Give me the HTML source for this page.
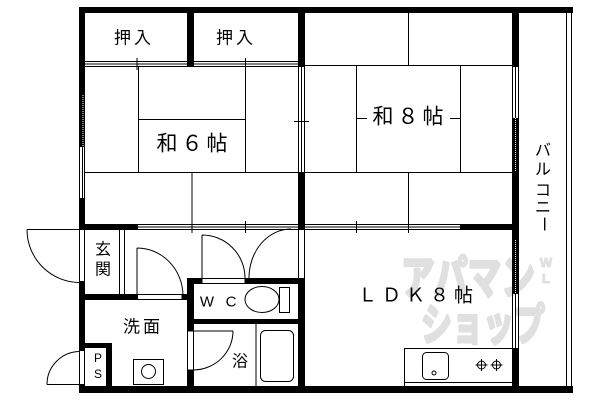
<!DOCTYPE html>
<html><head><meta charset="utf-8"><style>
html,body{margin:0;padding:0;background:#fff}
svg{display:block}
text{font-family:"Liberation Sans","Noto Sans CJK JP",sans-serif}
</style></head><body>
<svg width="600" height="400" viewBox="0 0 600 400" xmlns="http://www.w3.org/2000/svg">
<rect width="600" height="400" fill="#fff"/>
<g fill="#e0e0e0" stroke="#e0e0e0" stroke-width="3" stroke-linejoin="round" font-weight="bold">
<text x="401" y="294" font-size="46" textLength="134" lengthAdjust="spacingAndGlyphs">アパマン</text>
<text x="421" y="340" font-size="44" textLength="124" lengthAdjust="spacingAndGlyphs">ショップ</text>
<text x="546" y="267" font-size="13" stroke-width="1" text-anchor="middle">W</text>
<text x="546" y="283" font-size="13" stroke-width="1" text-anchor="middle">L</text>
</g>
<path fill="#000" d="M79 7h494v6h-494z M79 386h494v7h-494z M79 7h6v140h-6z M79 198h6v31h-6z M79 281h6v70h-6z M79 384h6v9h-6z M187 7h7v60h-7z M298 7h7v60h-7z M298 172h7v58h-7z M298 278h7v108h-7z M512 7h7v60h-7z M512 118h7v176h-7z M512 348h7v45h-7z M79 224h59v6h-59z M460 224h52v6h-52z M79 294h58v6h-58z M182 294h5v6h-5z M187 278h15v6h-15z M245 278h60v6h-60z M187 278h7v53h-7z M187 370h7v16h-7z M187 319h118v5h-118z M84 343h28v5h-28z M106 343h6v43h-6z"/>
<path fill="none" stroke="#fff" stroke-width="1" stroke-dasharray="1 1" d="M83 95V147 M515.5 118V172 M515.5 240V294"/>
<path fill="none" stroke="#000" stroke-width="1" d="M85 61.5H298 M85 64H298 M85 66.5H298 M137 58V70 M245.5 58V70 M138.5 67V172 M245.5 67V172 M138 119.5H246 M85 172.5H298 M192 172V224 M408.5 13V65 M305 65.5H512 M356.5 65V172 M460.5 65V172 M305 172.5H512 M408.5 172V224 M357 118.5H367 M450 118.5H460 M138 224.5H298 M138 227H298 M138 229.5H298 M305 224.5H460 M305 227H460 M305 229.5H460 M192 221V233 M245.5 221V233 M356.5 221V233 M408.5 221V233 M298.5 67V172 M301.5 67V172 M304.5 67V172 M294 121.5H309 M298.5 230V278 M304.5 230V278 M79.5 147V198 M82.5 147V198 M84.5 147V198 M79.5 229V281 M84.5 229V281 M79.5 351V384 M84.5 351V384 M512.5 67V118 M515.5 67V118 M518.5 67V118 M512.5 294V348 M515.5 294V348 M518.5 294V348 M566.5 13V386 M571.5 13V386 M119.5 230V294 M124.5 230V294 M27 229.5H80 M27 229.5A53 53 0 0 0 80 282.5 M137 248V296 M137 248A46 48 0 0 1 183 296 M202 235V278 M202 235A43 43 0 0 1 245 278 M249 278A42 49 0 0 1 291 229 M193 331H233 M233 331A40 39 0 0 1 193 370 M47 384.5H80 M47 384.5A33 33 0 0 1 80 351.5 M256 324V386 M404 382.5H512 M475.5 365H487.5 M490.5 365H502.5 M481.5 359V371 M496.5 359V371"/>
<g stroke="#000" stroke-width="1" fill="none">
<rect x="137.5" y="294.5" width="44.5" height="5"/>
<rect x="202" y="278.5" width="43" height="5"/>
<rect x="187.5" y="331" width="6" height="39"/>
<rect x="279.5" y="287.5" width="10" height="25"/>
<ellipse cx="262" cy="299.5" rx="17" ry="13"/>
<rect x="260.5" y="330.5" width="33" height="51" rx="5"/>
<rect x="133.5" y="359.5" width="30" height="25"/>
<circle cx="148.5" cy="371.5" r="7"/>
<rect x="404.5" y="348.5" width="108" height="38"/>
<rect x="422.5" y="352.5" width="26" height="27" rx="4"/>
<circle cx="434" cy="373" r="2"/>
<circle cx="481.5" cy="365" r="4"/>
<circle cx="496.5" cy="365" r="4"/>
</g>
<g fill="#000" dominant-baseline="central" text-anchor="middle">
<text x="134" y="38" font-size="17" letter-spacing="3">押入</text>
<text x="236" y="38" font-size="17" letter-spacing="3">押入</text>
<text x="194" y="144" font-size="21" letter-spacing="4">和６帖</text>
<text x="410" y="117" font-size="21" letter-spacing="4">和８帖</text>
<text x="418" y="296" font-size="19" letter-spacing="5">ＬＤＫ８帖</text>
<text x="103" y="250" font-size="16">玄</text>
<text x="103" y="270" font-size="16">関</text>
<text x="143" y="327" font-size="17" letter-spacing="3">洗面</text>
<text x="207" y="302" font-size="15">W</text>
<text x="231" y="302" font-size="15">C</text>
<text x="240" y="362" font-size="16">浴</text>
<text x="98" y="358" font-size="12">P</text>
<text x="98" y="374" font-size="12">S</text>
<text x="543" y="151" font-size="16">バ</text>
<text x="543" y="170" font-size="16">ル</text>
<text x="543" y="191" font-size="16">コ</text>
<text x="543" y="208" font-size="16">ニ</text>
<text x="543" y="224" font-size="16" transform="rotate(90 543 224)">ー</text>
</g>
</svg>
</body></html>
